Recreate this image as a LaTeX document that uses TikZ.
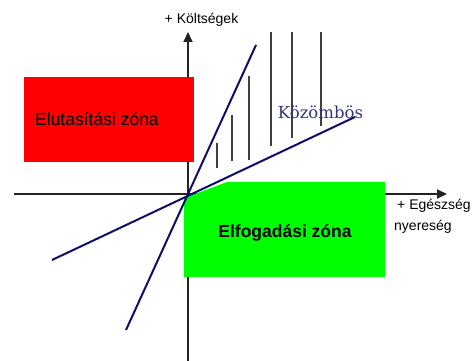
\documentclass[tikz,border=0pt]{standalone}
\usepackage{fontspec}
\setmainfont{Liberation Sans}
\newfontfamily\kozfont{DejaVu Serif}
\usetikzlibrary{arrows.meta}
\definecolor{zonered}{RGB}{255, 0, 0}
\definecolor{zonegreen}{RGB}{0, 255, 0}
\definecolor{raynavy}{RGB}{14, 14, 104}
\definecolor{axisgray}{RGB}{35, 35, 35}

\begin{document}
\begin{tikzpicture}[
    x=1pt, y=-1pt,
    axis/.style={axisgray, line width=2pt, -{Triangle[length=10pt, width=9pt]}},
    ray/.style={raynavy, line width=2pt},
    hatch/.style={black!75, line width=1.1pt},
    lbl/.style={font=\fontsize{14}{16}\selectfont, inner sep=0pt},
    zonetext/.style={font=\fontsize{17.5}{20}\selectfont, inner sep=0pt}
]
    \useasboundingbox (0,0) rectangle (475,361);

    % Coordinates
    \coordinate (O)      at (188, 194);
    \coordinate (ytop)   at (188, 32);
    \coordinate (ybot)   at (188, 361);
    \coordinate (xleft)  at (14, 194);
    \coordinate (xright) at (447, 194);

    \coordinate (steeplo) at (126, 330);
    \coordinate (steephi) at (256, 45);
    \coordinate (flatlo)  at (52, 260);
    \coordinate (flathi)  at (355, 117);

    % Axes
    \draw[axis] (ybot) -- (ytop);
    \draw[axis] (xleft) -- (xright);
    \node[lbl, anchor=base] (ylbl) at (201.5, 24) {+ Költségek};
    \node[lbl, anchor=base west] (xlbl) at (397, 210) {+ Egészség};
    \node[lbl, anchor=base west] (xlbl2) at (394, 231) {nyereség};

    % Rejection zone (red box)
    \node[fill=zonered, inner sep=0pt, minimum width=170pt, minimum height=85pt] (reject) at (109, 119.5) {};
    \node[zonetext, anchor=base west] (rejectlbl) at (35, 125.5) {Elutasítási zóna};

    % Acceptance zone (green, cut corner)
    \fill[zonegreen] (184, 198) -- (227, 182) -- (385, 182) -- (385, 277) -- (184, 277) -- cycle;
    \node[zonetext, font=\fontsize{17.5}{20}\selectfont\bfseries, anchor=base] (accept) at (285, 238) {Elfogadási zóna};

    % Hatching between the two lines
    \draw[hatch] (217, 143) -- (217, 168);
    \draw[hatch] (232, 115) -- (232, 161);
    \draw[hatch] (249, 76)  -- (249, 160);
    \draw[hatch] (271, 32)  -- (271, 146);
    \draw[hatch] (292, 32)  -- (292, 138);
    \draw[hatch] (321, 32)  -- (321, 126);

    % Lines through the origin
    \draw[ray] (steeplo) -- (steephi);
    \draw[ray] (flatlo) -- (flathi);

    \node[inner sep=0pt, text=raynavy!85!white, font=\kozfont\fontsize{16.5}{18}\selectfont] (indiff) at (320.5, 112) {Közömbös};

\end{tikzpicture}
\end{document}
